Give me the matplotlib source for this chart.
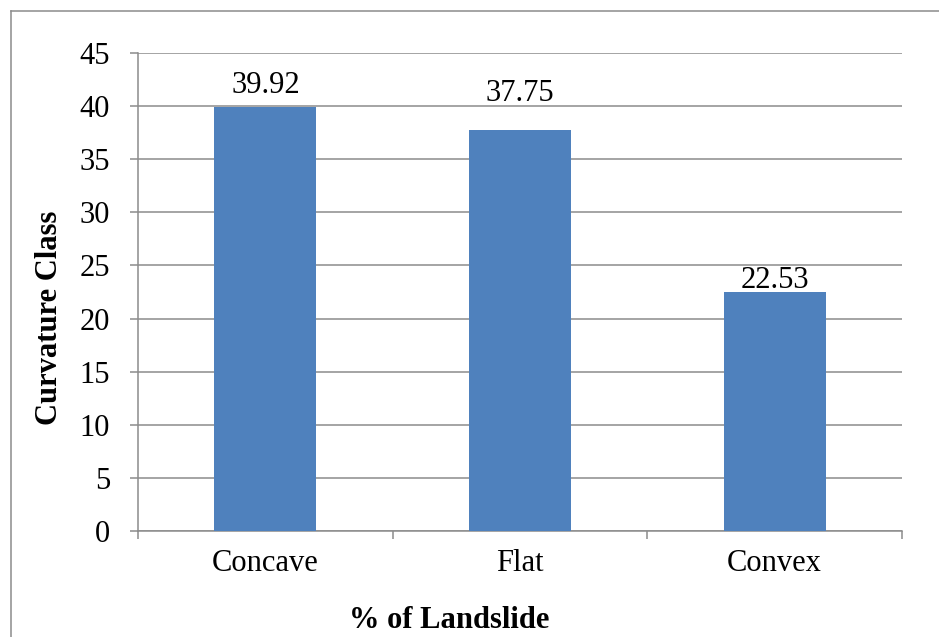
import numpy as np
import matplotlib.pyplot as plt
from matplotlib.lines import Line2D
from matplotlib.ticker import FixedLocator

plt.rcParams['font.family'] = ['Liberation Serif', 'DejaVu Serif']

# data
classes = ['Concave', 'Flat', 'Convex']
landslide_pct = [39.92, 37.75, 22.53]
yticks = [0, 5, 10, 15, 20, 25, 30, 35, 40, 45]

# label offsets above bar tops (pixels), as placed in the original
label_offsets = [14, 29, 4]

bar_color = '#4F81BD'
grid_color = '#8c8c8c'
fs = 22

W, H = 939, 637
fig = plt.figure(figsize=(W / 100, H / 100), dpi=100)
ax = fig.add_axes([138 / W, 1 - 531 / H, (902 - 138) / W, (531 - 53) / H])

x = np.arange(len(classes))
bars = ax.bar(x, landslide_pct, width=0.4, color=bar_color, zorder=3)

for b, v, off in zip(bars, landslide_pct, label_offsets):
    ax.annotate(f'{v:.2f}', (b.get_x() + b.get_width() / 2, b.get_height()),
                xytext=(0, off), textcoords='offset pixels',
                ha='center', va='baseline', fontsize=fs, zorder=4)

ax.set_xlim(-0.5, len(classes) - 0.5)
ax.set_ylim(0, 45)
ax.set_yticks(yticks)
ax.set_yticklabels([str(t) for t in yticks], fontsize=fs)
ax.set_xticks(x)
ax.set_xticklabels(classes, fontsize=fs)
ax.xaxis.set_minor_locator(FixedLocator(np.arange(-0.5, len(classes), 1.0)))

ax.tick_params(axis='x', which='major', length=0, pad=13)
ax.tick_params(axis='x', which='minor', length=6, width=1.1, color=grid_color, direction='out')
ax.tick_params(axis='y', length=6, width=1.1, color=grid_color, direction='out', pad=14)

ax.grid(axis='y', color=grid_color, lw=1.1, zorder=0)
for s in ['top', 'right']:
    ax.spines[s].set_visible(False)
for s in ['left', 'bottom']:
    ax.spines[s].set_color(grid_color)
    ax.spines[s].set_linewidth(1.1)

fig.text(449 / W, 9 / H, '% of Landslide', ha='center', va='baseline',
         fontsize=fs, fontweight='bold')
fig.text(50 / W, 1 - 318 / H, 'Curvature Class', ha='center', va='center',
         rotation=90, fontsize=fs, fontweight='bold')

# outer chart border (left and top edges visible)
fig.add_artist(Line2D([10.5 / W, 10.5 / W], [0, 1 - 11 / H], color=grid_color,
                      lw=1.1, transform=fig.transFigure))
fig.add_artist(Line2D([10.5 / W, 1], [1 - 11 / H, 1 - 11 / H], color=grid_color,
                      lw=1.1, transform=fig.transFigure))

plt.savefig('out.png', dpi=100)
